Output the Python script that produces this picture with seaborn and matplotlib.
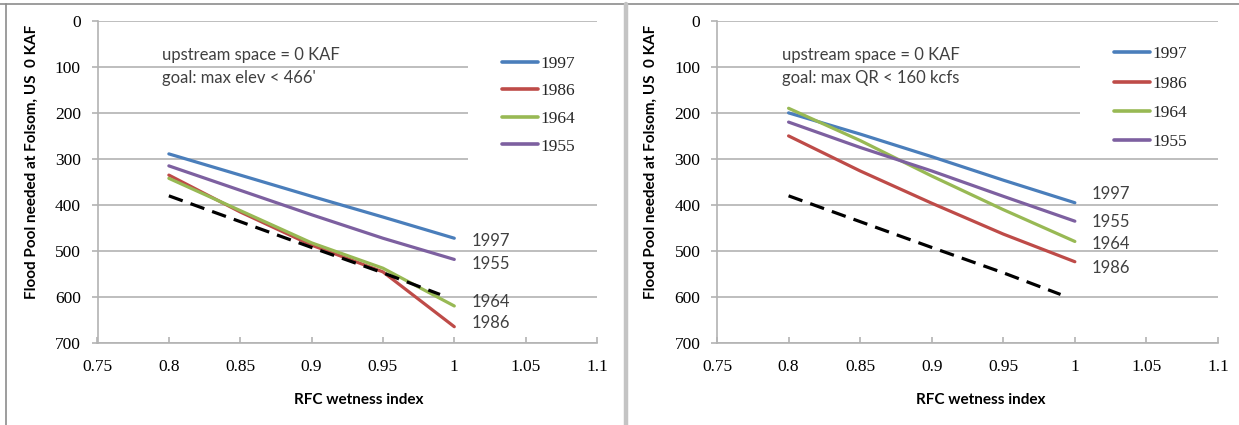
import numpy as np
import pandas as pd
import matplotlib
matplotlib.use("Agg")
import matplotlib.pyplot as plt
import seaborn as sns
from matplotlib.lines import Line2D
from matplotlib.patches import Rectangle

# ---------------- data ----------------
wetness = [0.80, 0.85, 0.90, 0.95, 1.00]
years = ["1997", "1986", "1964", "1955"]

# left panel: goal max elev < 466'
elev_1997 = [289, 335, 381, 426, 472]
elev_1986 = [335, 415, 487, 545, 664]
elev_1964 = [342, 412, 482, 537, 619]
elev_1955 = [315, 368, 421, 472, 518]

# right panel: goal max QR < 160 kcfs
qr_1997 = [200, 246, 295, 346, 395]
qr_1986 = [250, 326, 396, 463, 523]
qr_1964 = [190, 260, 337, 410, 479]
qr_1955 = [220, 275, 326, 381, 435]

# dashed reference line (same in both panels)
ref_wetness = [0.80, 0.85, 0.90, 0.95, 0.99]
ref_pool = [380, 436, 492, 547, 594]

x_ticks = [0.75, 0.8, 0.85, 0.9, 0.95, 1.0, 1.05, 1.1]
x_tick_labels = ["0.75", "0.8", "0.85", "0.9", "0.95", "1", "1.05", "1.1"]
y_ticks = [0, 100, 200, 300, 400, 500, 600, 700]

left_notes = ["upstream space = 0 KAF", "goal: max elev < 466'"]
right_notes = ["upstream space = 0 KAF", "goal: max QR < 160 kcfs"]
left_end_labels = {"1997": 478, "1955": 528, "1964": 610, "1986": 656}
right_end_labels = {"1997": 376, "1955": 437, "1964": 485, "1986": 536}

colors = {"1997": "#4A7EBB", "1986": "#BE4B48", "1964": "#98B954", "1955": "#7D60A0"}

def make_df(series):
    rows = []
    for yr, vals in zip(years, series):
        for w, v in zip(wetness, vals):
            rows.append({"wetness": w, "pool": v, "year": yr})
    return pd.DataFrame(rows)

df_left = make_df([elev_1997, elev_1986, elev_1964, elev_1955])
df_right = make_df([qr_1997, qr_1986, qr_1964, qr_1955])
df_ref = pd.DataFrame({"wetness": ref_wetness, "pool": ref_pool})

# ---------------- figure ----------------
sns.set_theme(style="white")
plt.rcParams["font.family"] = ["DejaVu Sans"]

W, H = 1239, 425
fig = plt.figure(figsize=(W / 100, H / 100), dpi=100)
fig.patch.set_facecolor("white")

def fx(px):
    return px / W

def fy(py):
    return 1 - py / H

ax_top, ax_bot = 20.7, 343.3
axL = fig.add_axes([fx(97.5), fy(ax_bot), (597 - 97.5) / W, (ax_bot - ax_top) / H])
axR = fig.add_axes([fx(717), fy(ax_bot), (1218 - 717) / W, (ax_bot - ax_top) / H])

grid_col = "#B3B3B3"
tick_font = dict(family="Liberation Serif", size=12.5)

def style_axis(ax, df, notes, end_labels, legend_anchor, spacing, patch_box):
    ax.set_facecolor("white")
    sns.lineplot(data=df, x="wetness", y="pool", hue="year", hue_order=years,
                 palette=colors, linewidth=2.3, ax=ax, legend=False,
                 zorder=3, estimator=None, sort=False)
    sns.lineplot(data=df_ref, x="wetness", y="pool", color="black",
                 linewidth=2.3, ax=ax, zorder=3, estimator=None, sort=False)
    ax.lines[-1].set_dashes((4.6, 2.6))
    ax.set_xlim(0.75, 1.1)
    ax.set_ylim(700, 0)
    ax.set_xticks(x_ticks)
    ax.set_xticklabels(x_tick_labels, fontdict=tick_font)
    ax.set_yticks(y_ticks)
    ax.set_yticklabels([str(v) for v in y_ticks], fontdict=tick_font)
    ax.yaxis.grid(True, color=grid_col, linewidth=1.2, zorder=0)
    ax.xaxis.grid(False)
    ax.set_axisbelow(True)
    for s in ["top", "right"]:
        ax.spines[s].set_visible(False)
    for s in ["left", "bottom"]:
        ax.spines[s].set_color(grid_col)
        ax.spines[s].set_linewidth(1.2)
    ax.tick_params(axis="y", direction="out", length=4, width=1.2,
                   color=grid_col, pad=8, labelcolor="black", left=True)
    ax.tick_params(axis="x", direction="in", length=4, width=1.2,
                   color=grid_col, pad=11, labelcolor="black", bottom=True)
    ax.set_xlabel("")
    ax.set_ylabel("")
    # white legend background covering gridlines
    x0, y0, x1, y1 = patch_box
    ax.add_patch(Rectangle((x0, y0), x1 - x0, y1 - y0, transform=ax.transAxes,
                           facecolor="white", edgecolor="none", zorder=1))
    handles = [Line2D([0], [0], color=colors[y], linewidth=2.6,
                      solid_capstyle="round") for y in years]
    ax.legend(handles, years, loc="upper left", bbox_to_anchor=legend_anchor,
              frameon=False, borderaxespad=0, borderpad=0, handlelength=2.1,
              handletextpad=0.12, labelspacing=spacing,
              prop=dict(family="Liberation Serif", size=12.5))
    # notes
    ax.text(0.7955, 74, notes[0], fontsize=12, family="Lato", color="#404040",
            va="center", ha="left", zorder=4)
    ax.text(0.7955, 125, notes[1], fontsize=12, family="Lato", color="#404040",
            va="center", ha="left", zorder=4)
    # end labels
    for yr, yv in end_labels.items():
        ax.text(1.012, yv, yr, fontsize=12, family="Lato", color="#404040",
                va="center", ha="left", zorder=4)

style_axis(axL, df_left, left_notes, left_end_labels,
           (0.809, 0.892), 0.66, (0.742, 0.47, 1.0, 0.97))
style_axis(axR, df_right, right_notes, right_end_labels,
           (0.792, 0.921), 0.76, (0.7245, 0.6, 1.0, 0.97))

# axis titles
ylab = "Flood Pool needed at Folsom, US  0 KAF"
for xp, xl in [(31.5, 359), (651, 981)]:
    fig.text(fx(xp), fy(162), ylab, rotation=90, ha="center", va="center",
             fontsize=11, family="Lato", fontweight="bold", color="black")
    fig.text(fx(xl), fy(400), "RFC wetness index", ha="center", va="center",
             fontsize=11, family="Lato", fontweight="bold", color="black")

# panel borders
fig.add_artist(Line2D([0, 1], [fy(4), fy(4)], color="#8C8C8C", linewidth=1.2,
                      transform=fig.transFigure))
fig.add_artist(Line2D([fx(6), fx(6)], [fy(4), 0], color="#8C8C8C", linewidth=1.2,
                      transform=fig.transFigure))
fig.add_artist(Line2D([fx(626), fx(626)], [fy(4), 0], color="#C4C4C4", linewidth=3.2,
                      transform=fig.transFigure))

fig.savefig("out.png", dpi=100, facecolor="white")
